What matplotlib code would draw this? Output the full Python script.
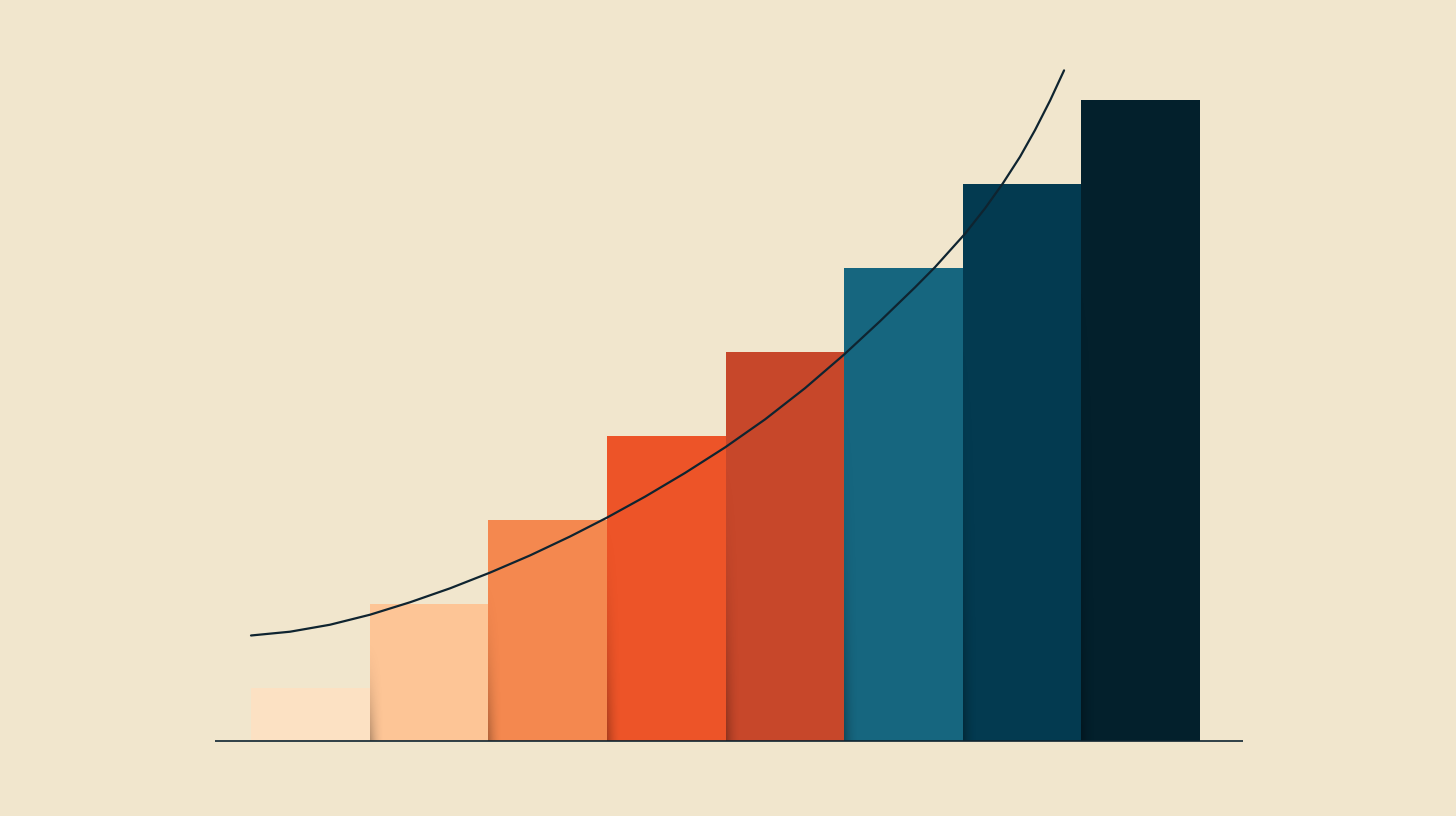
import numpy as np
import matplotlib
matplotlib.use("Agg")
import matplotlib.pyplot as plt

# bar values (arbitrary units, tallest bar = 100)
categories = ["A", "B", "C", "D", "E", "F", "G", "H"]
values = [8.3, 21.4, 34.5, 47.6, 60.7, 73.8, 86.9, 100.0]
bar_colors = ["#fce1c3", "#fdc596", "#f4884f", "#ed5428",
              "#c7472a", "#16667f", "#033a50", "#03202c"]

# trend curve (x in bar-index units)
curve_x = [-0.500, -0.171, 0.166, 0.503, 0.840, 1.178, 1.515, 1.852, 2.189,
           2.501, 2.821, 3.159, 3.496, 3.833, 4.170, 4.499, 4.802, 5.097,
           5.266, 5.519, 5.688, 5.839, 5.983, 6.109, 6.236, 6.354]
curve_y = [16.46, 17.05, 18.14, 19.70, 21.64, 23.82, 26.27, 28.95, 31.90,
           34.85, 38.11, 41.82, 45.80, 50.17, 55.04, 60.28, 65.48, 70.76,
           73.92, 79.13, 83.10, 87.02, 91.15, 95.30, 99.91, 104.62]

bg = "#f1e6cd"
ink = "#0f2430"

fig = plt.figure(figsize=(14.56, 8.16), dpi=100, facecolor=bg)
ax = fig.add_axes([0, 0, 1, 1])
ax.set_facecolor(bg)

x = np.arange(len(categories))
ax.bar(x, values, width=1.0, color=bar_colors, linewidth=0, zorder=2)

# soft shadow on the left edge of each bar, strongest near the base
for i in range(1, len(values)):
    h = values[i] * 0.8
    grad = np.zeros((60, 60, 4))
    fx = np.linspace(1, 0, 60) ** 2
    fy = np.linspace(0, 1, 60)[:, None] ** 2
    grad[..., 3] = 0.28 * fx[None, :] * fy
    ax.imshow(grad, extent=[x[i] - 0.5, x[i] - 0.38, 0, h], aspect="auto",
              origin="upper", zorder=3, interpolation="bilinear")

ax.plot(curve_x, curve_y, color=ink, linewidth=1.6, solid_capstyle="round",
        solid_joinstyle="round", zorder=4)
ax.hlines(0, -0.803, 7.862, color=ink, linewidth=1.2, zorder=4)

ax.set_xlim(-2.616, 9.658)
ax.set_ylim(-11.70, 115.6)
ax.axis("off")

fig.savefig("out.png", dpi=100, facecolor=bg)
